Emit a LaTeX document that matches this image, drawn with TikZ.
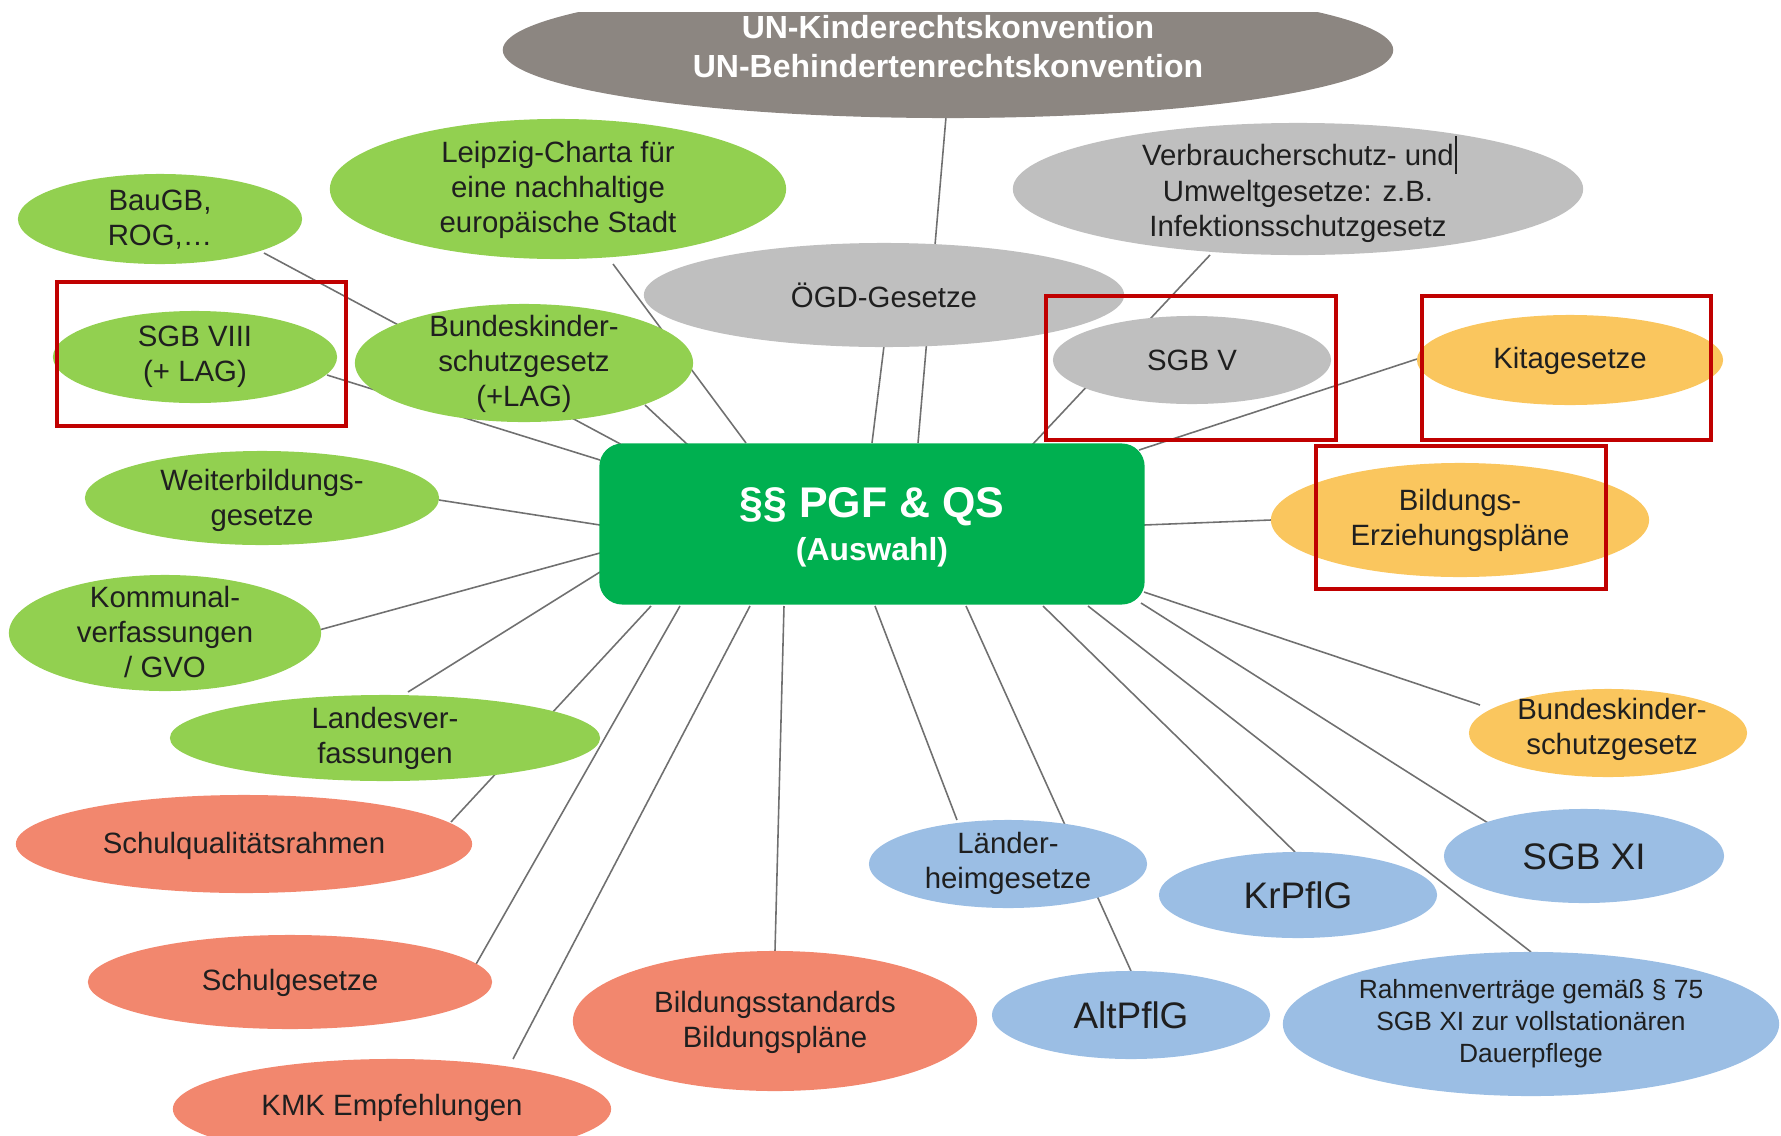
\documentclass[tikz,border=0pt]{standalone}
\usepackage{fontspec}
\setmainfont{Liberation Sans}
\usetikzlibrary{shapes.geometric, calc}
\pgfdeclarelayer{wires}
\pgfsetlayers{wires,main}
\definecolor{pgfgreen}{HTML}{00B050}
\definecolor{lawgreen}{HTML}{92D050}
\definecolor{lawgray}{HTML}{BFBFBF}
\definecolor{ungray}{HTML}{8C8681}
\definecolor{laworange}{HTML}{FAC65E}
\definecolor{lawsalmon}{HTML}{F2876E}
\definecolor{lawblue}{HTML}{9BBEE4}
\definecolor{framered}{HTML}{C00000}
\definecolor{wiregray}{HTML}{707070}

\begin{document}
\begin{tikzpicture}[x=0.01cm, y=-0.01cm,
	law/.style={shape=ellipse, inner sep=0pt},
	lbl/.style={anchor=center, align=center, inner sep=0pt, text=black!88, font=\fontsize{8.35}{10}\selectfont},
	biglbl/.style={lbl, font=\fontsize{10.5}{12.5}\selectfont},
	link/.style={draw=wiregray, line width=0.45pt},
	redframe/.style={shape=rectangle, draw=framered, line width=1.1pt, inner sep=0pt}]
	\useasboundingbox (0, 0) rectangle (1781, 1136);
	% UN conventions, cut off at the top
	\begin{scope}
		\clip (0, 12) rectangle (1781, 1136);
		\node[law, fill=ungray, minimum width=8.9cm, minimum height=1.36cm] (un) at (948, 50){} node[lbl, text=white, font=\bfseries\fontsize{9.1}{11.1}\selectfont] (un-l) at (948, 47){UN-Kinderechtskonvention\\UN-Behindertenrechtskonvention};
	\end{scope}
	% Paths, nodes and wires:
	\node[shape=rectangle, rounded corners=0.23cm, fill=pgfgreen, minimum width=5.45cm, minimum height=1.61cm] (pgf) at (872, 524){} node[lbl, text=white, font=\bfseries\fontsize{12.2}{14}\selectfont] (pgf-l) at (872, 507){§§ PGF \& QS} node[lbl, text=white, font=\bfseries\fontsize{9.05}{11}\selectfont] (pgf-s) at (872, 552){(Auswahl)};
	\node[law, fill=lawgreen, minimum width=4.56cm, minimum height=1.4cm] (leipzig) at (558, 189){} node[lbl] (leipzig-l) at (558, 190){Leipzig-Charta für\\eine nachhaltige\\europäische Stadt};
	\node[law, fill=lawgreen, minimum width=2.84cm, minimum height=0.9cm] (baugb) at (160, 219){} node[lbl] (baugb-l) at (160, 220){BauGB,\\ROG,…};
	\node[law, fill=lawgreen, minimum width=2.84cm, minimum height=0.92cm] (sgb8) at (195, 357){} node[lbl] (sgb8-l) at (195, 357){SGB VIII\\(+ LAG)};
	\node[law, fill=lawgreen, minimum width=3.38cm, minimum height=1.18cm] (bkisch) at (524, 363){} node[lbl] (bkisch-l) at (524, 364){Bundeskinder-\\schutzgesetz\\(+LAG)};
	\node[law, fill=lawgray, minimum width=4.8cm, minimum height=1.04cm] (oegd) at (884, 295){} node[lbl] (oegd-l) at (884, 295){ÖGD-Gesetze};
	\node[law, fill=lawgray, minimum width=5.7cm, minimum height=1.32cm] (verbr) at (1298, 189){} node[lbl] (verbr-l) at (1298, 189){Verbraucherschutz- und\rlap{\hspace{0.03em}\rule[-0.28em]{0.5pt}{1.31em}}\\Umweltgesetze: z.B.\\Infektionsschutzgesetz};
	\node[law, fill=lawgray, minimum width=2.78cm, minimum height=0.88cm] (sgb5) at (1192, 360){} node[lbl] (sgb5-l) at (1192, 360){SGB V};
	\node[law, fill=laworange, minimum width=3.06cm, minimum height=0.9cm] (kita) at (1570, 360){} node[lbl] (kita-l) at (1570, 361){Kitagesetze};
	\node[law, fill=laworange, minimum width=3.78cm, minimum height=1.14cm] (bep) at (1460, 520){} node[lbl] (bep-l) at (1460, 520){Bildungs-\\Erziehungspläne};
	\node[law, fill=laworange, minimum width=2.78cm, minimum height=0.88cm] (bkschg) at (1608, 733){} node[lbl] (bkschg-l) at (1612, 729){Bundeskinder-\\schutzgesetz};
	\node[law, fill=lawgreen, minimum width=3.54cm, minimum height=0.94cm] (weiter) at (262, 498){} node[lbl] (weiter-l) at (262, 500){Weiterbildungs-\\gesetze};
	\node[law, fill=lawgreen, minimum width=3.12cm, minimum height=1.16cm] (kommunal) at (165, 633){} node[lbl] (kommunal-l) at (165, 632){Kommunal-\\verfassungen\\/ GVO};
	\node[law, fill=lawgreen, minimum width=4.3cm, minimum height=0.86cm] (landesv) at (385, 738){} node[lbl] (landesv-l) at (385, 738){Landesver-\\fassungen};
	\node[law, fill=lawsalmon, minimum width=4.56cm, minimum height=0.98cm] (sqr) at (244, 844){} node[lbl] (sqr-l) at (244, 846){Schulqualitätsrahmen};
	\node[law, fill=lawsalmon, minimum width=4.04cm, minimum height=0.94cm] (schulg) at (290, 982){} node[lbl] (schulg-l) at (290, 983){Schulgesetze};
	\node[law, fill=lawsalmon, minimum width=4.38cm, minimum height=1.0cm] (kmk) at (392, 1109){} node[lbl] (kmk-l) at (392, 1108){KMK Empfehlungen};
	\node[law, fill=lawsalmon, minimum width=4.04cm, minimum height=1.4cm] (bildst) at (775, 1021){} node[lbl] (bildst-l) at (775, 1022){Bildungsstandards\\Bildungspläne};
	\node[law, fill=lawblue, minimum width=2.78cm, minimum height=0.88cm] (laenderh) at (1008, 864){} node[lbl] (laenderh-l) at (1008, 863){Länder-\\heimgesetze};
	\node[law, fill=lawblue, minimum width=2.78cm, minimum height=0.86cm] (krpflg) at (1298, 895){} node[biglbl] (krpflg-l) at (1298, 895){KrPflG};
	\node[law, fill=lawblue, minimum width=2.8cm, minimum height=0.94cm] (sgb11) at (1584, 856){} node[biglbl] (sgb11-l) at (1584, 857){SGB XI};
	\node[law, fill=lawblue, minimum width=2.78cm, minimum height=0.88cm] (altpflg) at (1131, 1015){} node[biglbl] (altpflg-l) at (1131, 1015){AltPflG};
	\node[law, fill=lawblue, minimum width=4.96cm, minimum height=1.44cm] (rahmen) at (1531, 1024){} node[lbl, font=\fontsize{7.5}{9.1}\selectfont] (rahmen-l) at (1531, 1024){Rahmenverträge gemäß § 75\\SGB XI zur vollstationären\\Dauerpflege};
	\begin{pgfonlayer}{wires}
		\draw[link] ($(un)+(-2, 67)$) -- ($(pgf)+(46, -81)$);
		\draw[link] ($(oegd)+(0, 51)$) -- ($(pgf)+(0, -81)$);
		\draw[link] ($(leipzig)+(55, 75)$) -- ($(pgf)+(-126, -81)$);
		\draw[link] ($(baugb)+(104, 34)$) -- ($(pgf)+(-246, -77)$);
		\draw[link] ($(sgb8)+(132, 18)$) -- ($(pgf)+(-272, -64)$);
		\draw[link] ($(bkisch)+(121, 42)$) -- ($(pgf)+(-184, -79)$);
		\draw[link] ($(verbr)+(-88, 66)$) -- ($(pgf)+(160, -79)$);
		\draw[link] ($(kita)+(-153, -1)$) -- ($(pgf)+(267, -74)$);
		\draw[link] ($(bep)+(-189, 0)$) -- ($(pgf)+(272, 1)$);
		\draw[link] ($(weiter)+(177, 2)$) -- ($(pgf)+(-272, 1)$);
		\draw[link] ($(kommunal)+(154, -3)$) -- ($(pgf)+(-272, 29)$);
		\draw[link] ($(landesv)+(23, -46)$) -- ($(pgf)+(-272, 48)$);
		\draw[link] ($(sqr)+(207, -22)$) -- ($(pgf)+(-221, 82)$);
		\draw[link] ($(schulg)+(185, -16)$) -- ($(pgf)+(-192, 82)$);
		\draw[link] ($(kmk)+(121, -50)$) -- ($(pgf)+(-122, 82)$);
		\draw[link] ($(bildst)+(0, -70)$) -- ($(pgf)+(-88, 82)$);
		\draw[link] ($(laenderh)+(-51, -44)$) -- ($(pgf)+(3, 82)$);
		\draw[link] ($(altpflg)+(0, -44)$) -- ($(pgf)+(94, 82)$);
		\draw[link] ($(krpflg)+(-3, -43)$) -- ($(pgf)+(171, 82)$);
		\draw[link] ($(rahmen)+(0, -72)$) -- ($(pgf)+(216, 82)$);
		\draw[link] ($(sgb11)+(-96, -33)$) -- ($(pgf)+(269, 79)$);
		\draw[link] ($(bkschg)+(-128, -28)$) -- ($(pgf)+(272, 68)$);
	\end{pgfonlayer}
	% highlighted laws
	\node[redframe, minimum width=2.89cm, minimum height=1.44cm] (frame-sgb8) at (201.5, 354){};
	\node[redframe, minimum width=2.9cm, minimum height=1.44cm] (frame-sgb5) at (1191, 368){};
	\node[redframe, minimum width=2.89cm, minimum height=1.44cm] (frame-kita) at (1566.5, 368){};
	\node[redframe, minimum width=2.9cm, minimum height=1.43cm] (frame-bep) at (1461, 517.5){};
\end{tikzpicture}
\end{document}
